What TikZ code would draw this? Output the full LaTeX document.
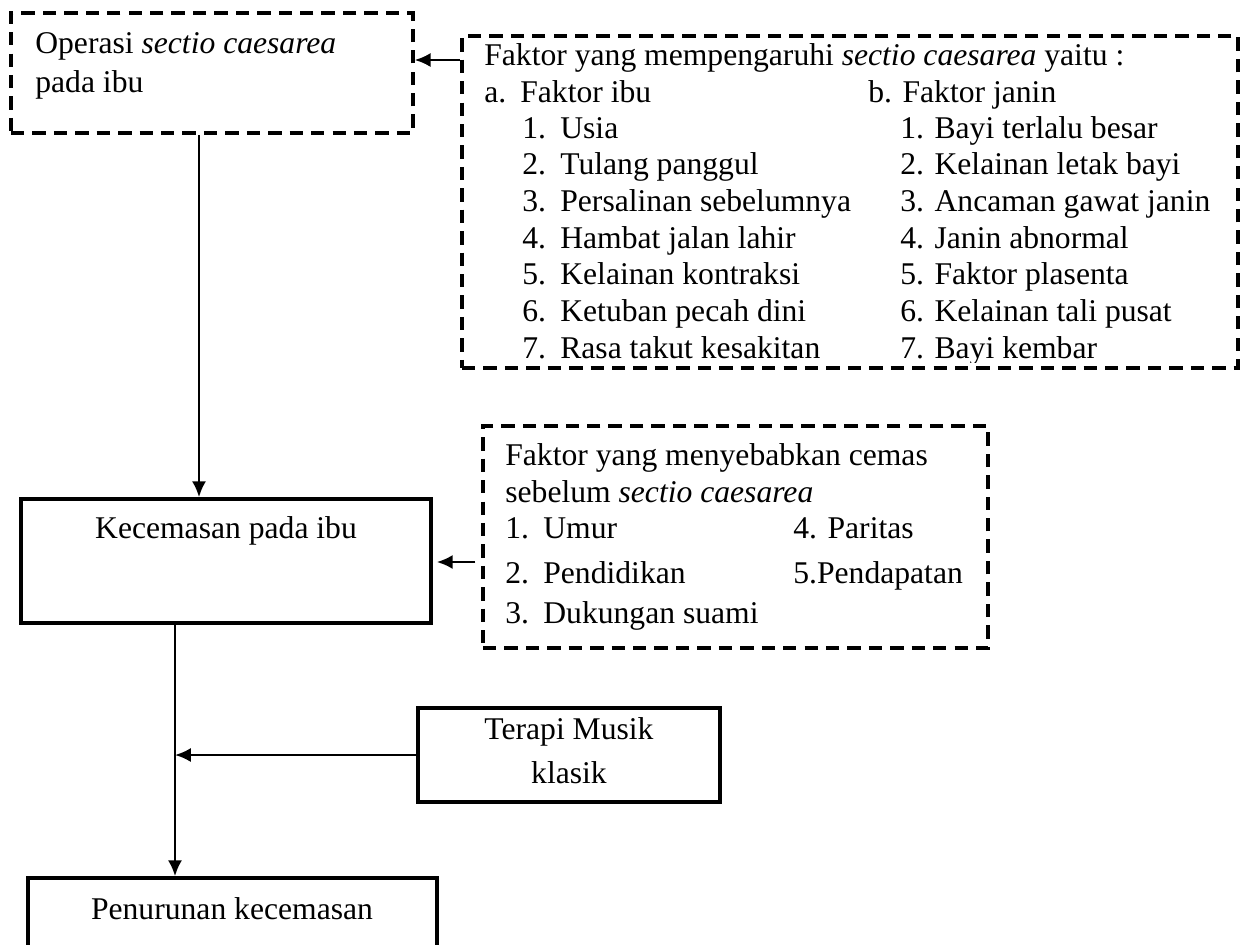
\documentclass[tikz,border=0pt]{standalone}
\usepackage{fontspec}
\setmainfont{Liberation Serif}
\usetikzlibrary{arrows.meta,fit}
\tikzset{>={Latex[length=9pt,width=8pt]}}
\tikzset{
  dashbox/.style = {draw, line width=2pt, dash pattern=on 7.6pt off 4.6pt, inner sep=0pt},
  solidbox/.style = {draw, line width=2.1pt, inner sep=0pt},
  txt/.style = {anchor=base west, inner sep=0pt},
  ctxt/.style = {anchor=base, inner sep=0pt},
  link/.style = {->, line width=1.3pt}
}

\begin{document}
\begin{tikzpicture}[x=0.02cm, y=-0.02cm, font=\fontsize{18}{21}\selectfont]
  \useasboundingbox (0,0) rectangle (1251,944);
  \clip (0,0) rectangle (1251,944);
  % boxes
  \node[dashbox, fit={(11,13) (413,133)}] (operasi) {};
  \node[dashbox, fit={(462,36) (1238,368)}] (faktorSC) {};
  \node[solidbox, fit={(21,499) (431,623)}] (kecemasan) {};
  \node[dashbox, fit={(483,426) (988,648)}] (cemas) {};
  \node[solidbox, fit={(418,708) (720,802)}] (terapi) {};
  \node[solidbox, fit={(28,878) (437,1000)}] (penurunan) {};
  % texts
  \node[txt] (operasiA) at (35,53) {Operasi \textit{sectio caesarea}};
  \node[txt] (operasiB) at (35,92) {pada ibu};
  \node[ctxt] (kecemasanT) at (226,538) {Kecemasan pada ibu};
  \node[ctxt] (terapiA) at (569,739) {Terapi Musik};
  \node[ctxt] (terapiB) at (569,783) {klasik};
  \node[ctxt] (penurunanT) at (232,919) {Penurunan kecemasan};
  \node[txt] (faktorT) at (484,65) {Faktor yang mempengaruhi \textit{sectio caesarea} yaitu :};
  \node[txt] (ibuA) at (484,102) {a.};
  \node[txt] (ibuT) at (520,102) {Faktor ibu};
  \node[txt] (janinT) at (868,102) {b. Faktor janin};
  \begin{scope}
    \clip (462,36) rectangle (1238,362);
    \foreach \t [count=\i] in {Usia, Tulang panggul, Persalinan sebelumnya, Hambat jalan lahir,
        Kelainan kontraksi, Ketuban pecah dini, Rasa takut kesakitan} {
      \node[txt] (ibuN\i) at (522,{138+(\i-1)*36.7}) {\i.};
      \node[txt] (ibu\i) at (560,{138+(\i-1)*36.7}) {\t};
    }
    \foreach \t [count=\i] in {Bayi terlalu besar, Kelainan letak bayi, Ancaman gawat janin,
        Janin abnormal, Faktor plasenta, Kelainan tali pusat, Bayi kembar} {
      \node[txt] (janin\i) at (900,{138+(\i-1)*36.7}) {\i. \t};
    }
  \end{scope}
  \node[txt] (cemasA) at (505,465) {Faktor yang menyebabkan cemas};
  \node[txt] (cemasB) at (505,502) {sebelum \textit{sectio caesarea}};
  \node[txt] (umurN) at (505,538) {1.};
  \node[txt] (umur) at (543,538) {Umur};
  \node[txt] (paritas) at (793,538) {4. Paritas};
  \node[txt] (pendidikanN) at (505,583) {2.};
  \node[txt] (pendidikan) at (543,583) {Pendidikan};
  \node[txt] (pendapatan) at (793,583) {5.Pendapatan};
  \node[txt] (suamiN) at (505,623) {3.};
  \node[txt] (suami) at (543,623) {Dukungan suami};
  % connectors
  \coordinate (yA) at (0,60);
  \coordinate (xA) at (199,0);
  \coordinate (yC) at (0,562);
  \coordinate (xK) at (175,0);
  \draw[link] (faktorSC.west |- yA) -- (operasi.east |- yA);
  \draw[link] (operasi.south -| xA) -- (kecemasan.north -| xA);
  \draw[link] ([xshift=-0.12cm]cemas.west |- yC) -- ([xshift=0.08cm]kecemasan.east |- yC);
  \draw[link] (kecemasan.south -| xK) -- (penurunan.north -| xK);
  \draw[link] (terapi.west) -- (terapi.west -| xK);
\end{tikzpicture}
\end{document}
